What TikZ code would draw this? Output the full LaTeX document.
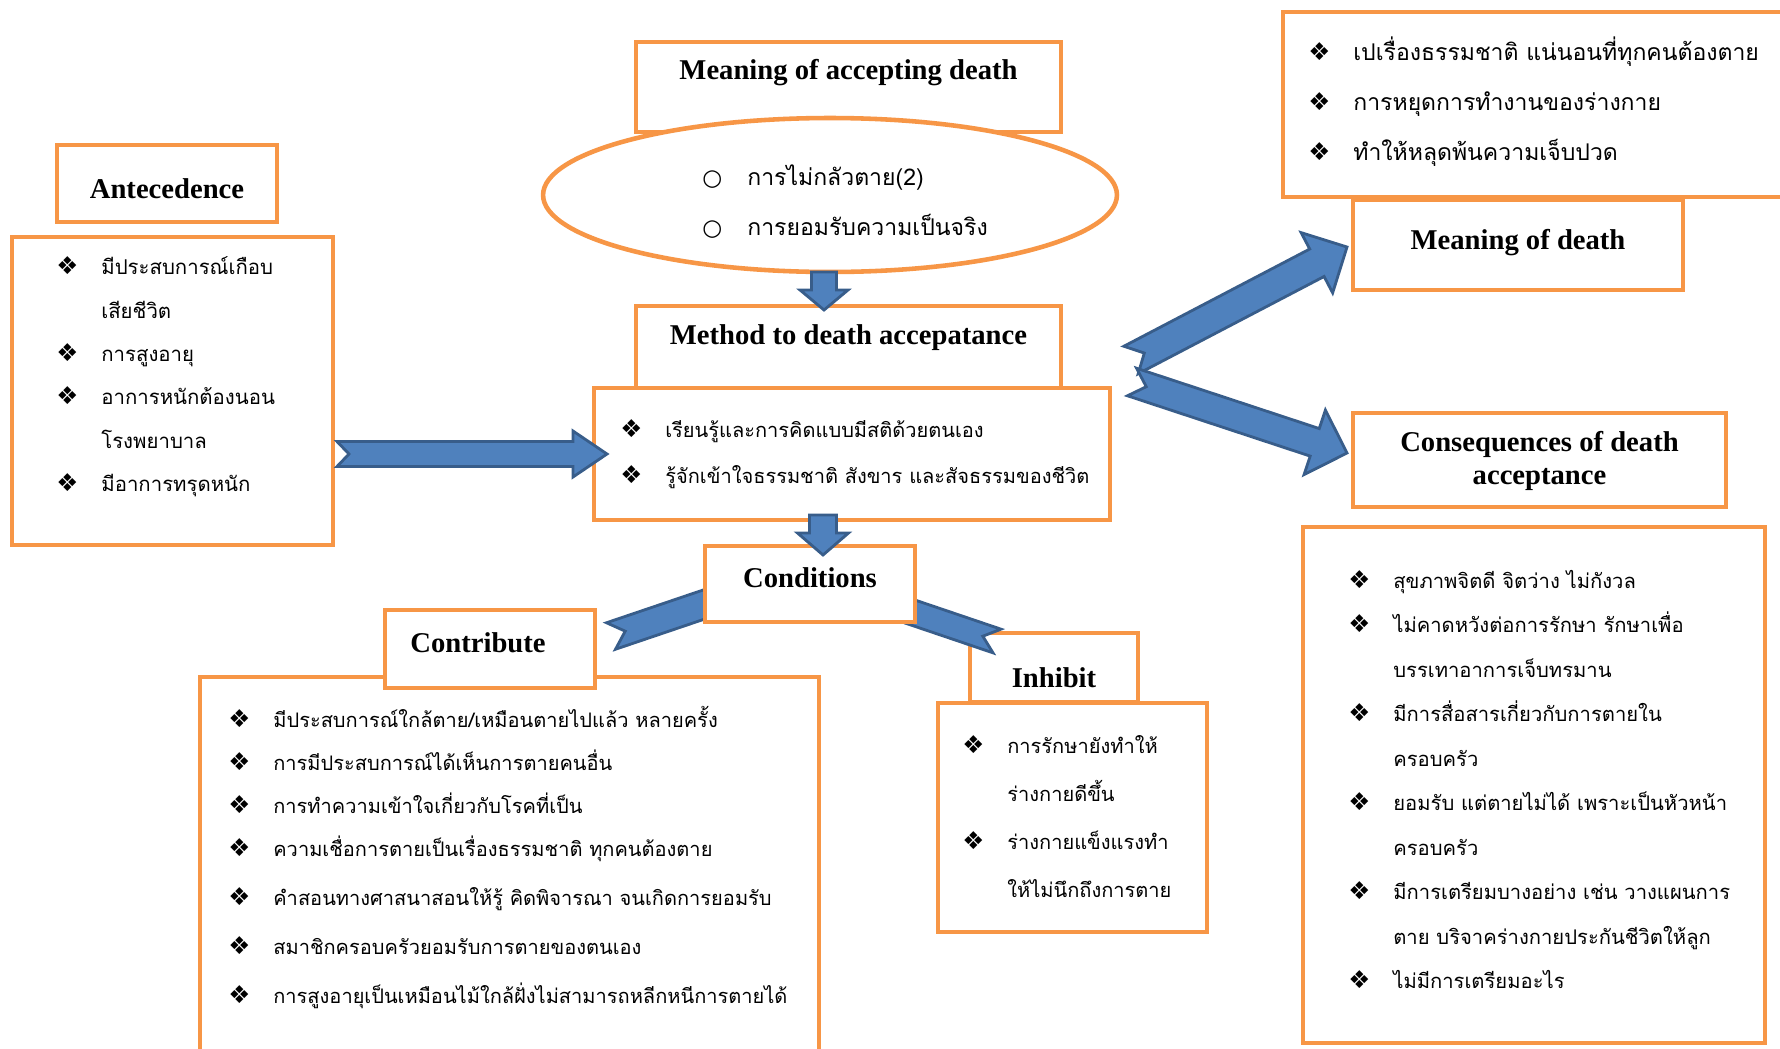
\documentclass[tikz,border=0pt]{standalone}
\usepackage{fontspec}
\setmainfont{Liberation Serif}
\newfontfamily\thaifont[Script=Thai]{Loma}
\newfontfamily\symfont{DejaVu Sans}
\usetikzlibrary{calc,shapes.geometric}
\definecolor{BoxOrange}{RGB}{247,150,70}
\definecolor{ArrowBlue}{RGB}{79,129,189}
\definecolor{ArrowEdge}{RGB}{56,93,138}
\newcommand{\diabul}{\strut\makebox[0.9cm][l]{\symfont\fontsize{14}{14}\selectfont ❖}}
\newcommand{\ringbul}{\strut\makebox[0.9cm][l]{\symfont\fontsize{13}{13}\selectfont ○}}
\newcommand{\contline}{\strut\hspace*{0.9cm}}
\tikzset{
  box/.style={draw=BoxOrange,line width=2.6pt,fill=white,inner sep=0pt},
  oval/.style={box,ellipse},
  title/.style={font=\fontsize{16.3}{19}\selectfont\bfseries,align=center,inner sep=0pt},
  list/.style 2 args={font=\thaifont\fontsize{#1}{#2}\selectfont,align=left,anchor=north west,inner sep=0pt},
  fatarrow/.style={draw=ArrowEdge,line width=1.6pt,fill=ArrowBlue,line join=miter}
}
% notched block arrow: tail, tip, half shaft, half head, head length, notch depth
\newcommand{\blockarrow}[6]{%
  \coordinate (hb) at ($(#2)!#5!(#1)$);
  \draw[fatarrow] ($(#1)!#3!90:(#2)$) -- ($(hb)!#3!90:(#2)$) -- ($(hb)!#4!90:(#2)$) -- (#2)
    -- ($(hb)!#4!-90:(#2)$) -- ($(hb)!#3!-90:(#2)$) -- ($(#1)!#3!-90:(#2)$) -- ($(#1)!#6!(#2)$) -- cycle;}

\begin{document}
\begin{tikzpicture}[x=0.02cm,y=-0.02cm]
  \useasboundingbox (0,0) rectangle (1780,1048);
  % meaning of accepting death
  \node[box,minimum width=8.5cm,minimum height=1.8cm] (acc) at (848.5,87) {};
  \node[title] (acctext) at (848.5,73) {Meaning of accepting death};
  \node[oval,minimum width=11.48cm,minimum height=3.08cm] (fear) at (830,195) {};
  \node[list={13.1}{28.4pt}] (fearlist) at (702,150) {\ringbul การไม่กลัวตาย(2)\\ \ringbul การยอมรับความเป็นจริง};
  % method
  \node[box,minimum width=8.5cm,minimum height=1.72cm] (mtitle) at (848.5,349) {};
  \node[title] (mtext) at (848.5,338) {Method to death accepatance};
  \node[box,minimum width=10.32cm,minimum height=2.64cm] (mbox) at (852,454) {};
  \node[list={11.4}{26.2pt}] (mlist) at (620,405) {\diabul เรียนรู้และการคิดแบบมีสติด้วยตนเอง\\ \diabul รู้จักเข้าใจธรรมชาติ สังขาร และสัจธรรมของชีวิต};
  % antecedence
  \node[box,minimum width=4.4cm,minimum height=1.54cm] (antetitle) at (167,183.5) {};
  \node[title] (antetext) at (167,189) {Antecedence};
  \node[box,minimum width=6.42cm,minimum height=6.16cm] (antebox) at (172.5,391) {};
  \node[list={11.6}{24.7pt}] (antelist) at (56,244) {\diabul มีประสบการณ์เกือบ\\ \contline เสียชีวิต\\ \diabul การสูงอายุ\\ \diabul อาการหนักต้องนอน\\ \contline โรงพยาบาล\\ \diabul มีอาการทรุดหนัก};
  % meaning of death
  \node[box,minimum width=10.24cm,minimum height=3.7cm] (meanbox) at (1539,104.5) {};
  \node[list={13.1}{28.4pt}] (meanlist) at (1308,25) {\diabul เปเรื่องธรรมชาติ แน่นอนที่ทุกคนต้องตาย\\ \diabul การหยุดการทำงานของร่างกาย\\ \diabul ทำให้หลุดพ้นความเจ็บปวด};
  \node[box,minimum width=6.6cm,minimum height=1.8cm] (meantitle) at (1518,245) {};
  \node[title] (meantext) at (1518,243) {Meaning of death};
  % consequences
  \node[box,minimum width=7.46cm,minimum height=1.88cm] (consetitle) at (1539.5,460) {};
  \node[title,font=\fontsize{16.3}{18.8}\selectfont\bfseries] (consetext) at (1539.5,461) {Consequences of death\\acceptance};
  \node[box,minimum width=9.24cm,minimum height=10.32cm] (consebox) at (1534,785) {};
  \node[list={11.5}{25.3pt}] (conselist) at (1348,557) {\diabul สุขภาพจิตดี จิตว่าง ไม่กังวล\\ \diabul ไม่คาดหวังต่อการรักษา รักษาเพื่อ\\ \contline บรรเทาอาการเจ็บทรมาน\\ \diabul มีการสื่อสารเกี่ยวกับการตายใน\\ \contline ครอบครัว\\ \diabul ยอมรับ แต่ตายไม่ได้ เพราะเป็นหัวหน้า\\ \contline ครอบครัว\\ \diabul มีการเตรียมบางอย่าง เช่น วางแผนการ\\ \contline ตาย บริจาคร่างกายประกันชีวิตให้ลูก\\ \diabul ไม่มีการเตรียมอะไร};
  % contribute
  \node[box,minimum width=12.38cm,minimum height=7.66cm] (contbox) at (509.5,868.5) {};
  \node[list={11.4}{24.5pt}] (contlist) at (228,697) {\diabul มีประสบการณ์ใกล้ตาย/เหมือนตายไปแล้ว หลายครั้ง\\ \diabul การมีประสบการณ์ได้เห็นการตายคนอื่น\\ \diabul การทำความเข้าใจเกี่ยวกับโรคที่เป็น\\ \diabul ความเชื่อการตายเป็นเรื่องธรรมชาติ ทุกคนต้องตาย\\[3.4pt] \diabul คำสอนทางศาสนาสอนให้รู้ คิดพิจารณา จนเกิดการยอมรับ\\[3.4pt] \diabul สมาชิกครอบครัวยอมรับการตายของตนเอง\\[3.4pt] \diabul การสูงอายุเป็นเหมือนไม้ใกล้ฝั่งไม่สามารถหลีกหนีการตายได้};
  \node[box,minimum width=4.2cm,minimum height=1.56cm] (conttitle) at (490,649) {};
  \node[title] (conttext) at (478,643) {Contribute};
  % inhibit
  \node[box,minimum width=3.36cm,minimum height=1.38cm] (inhtitle) at (1054,667.5) {};
  \node[title] (inhtext) at (1054,678) {Inhibit};
  \node[box,minimum width=5.38cm,minimum height=4.58cm] (inhbox) at (1072.5,817.5) {};
  \node[list={11.4}{27.3pt}] (inhlist) at (962,720) {\diabul การรักษายังทำให้\\ \contline ร่างกายดีขึ้น\\ \diabul ร่างกายแข็งแรงทำ\\ \contline ให้ไม่นึกถึงการตาย};
  % conditions
  \coordinate (a6s) at (611,636); \coordinate (a6e) at (791,575);
  \coordinate (a7s) at (997,641); \coordinate (a7e) at (817,580);
  \blockarrow{a6s}{a6e}{0.28cm}{0.56cm}{0.6cm}{0.3cm}
  \blockarrow{a7s}{a7e}{0.25cm}{0.56cm}{0.6cm}{0.3cm}
  \node[box,minimum width=4.2cm,minimum height=1.52cm] (condbox) at (810,584) {};
  \node[title] (condtext) at (810,578) {Conditions};
  % block arrows
  \coordinate (a1s) at (337,454); \coordinate (a1e) at (607,454);
  \coordinate (a2s) at (824,272); \coordinate (a2e) at (824,310);
  \coordinate (a3s) at (823,515); \coordinate (a3e) at (823,555);
  \coordinate (a4s) at (1131,360); \coordinate (a4e) at (1347,247);
  \coordinate (a5s) at (1132,382); \coordinate (a5e) at (1347,453);
  \blockarrow{a1s}{a1e}{0.25cm}{0.46cm}{0.68cm}{0.24cm}
  \blockarrow{a2s}{a2e}{0.25cm}{0.48cm}{0.4cm}{0cm}
  \blockarrow{a3s}{a3e}{0.27cm}{0.51cm}{0.44cm}{0cm}
  \blockarrow{a4s}{a4e}{0.31cm}{0.68cm}{0.68cm}{0.3cm}
  \blockarrow{a5s}{a5e}{0.29cm}{0.68cm}{0.68cm}{0.3cm}
\end{tikzpicture}
\end{document}
